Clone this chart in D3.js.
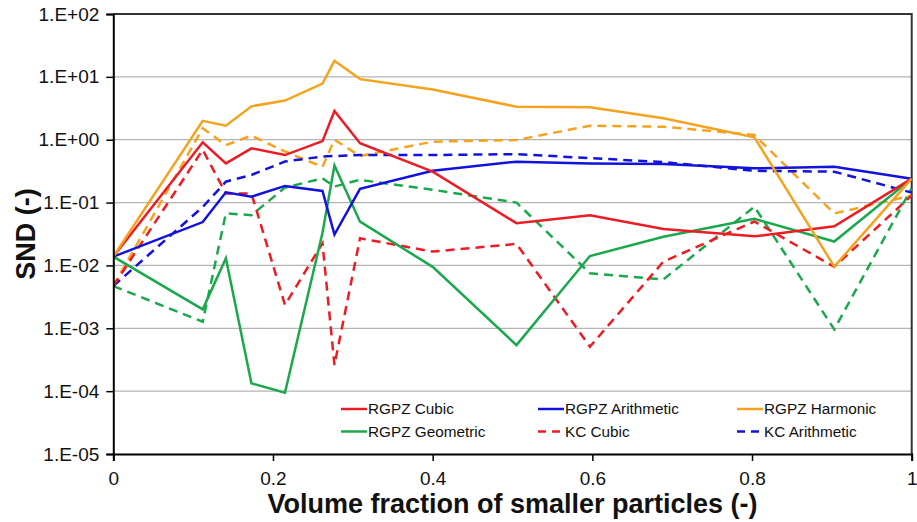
<!DOCTYPE html>
<html><head><meta charset="utf-8">
<script src="https://cdn.jsdelivr.net/npm/d3@7"></script>
<style>
body{margin:0;background:#fff;}
svg text{font-family:"Liberation Sans",Arial,sans-serif;}
</style></head>
<body><svg id="chart" width="917" height="522"></svg>
<script>
const xValues = [0, 0.112, 0.141, 0.173, 0.215, 0.262, 0.277, 0.309, 0.4, 0.505, 0.597, 0.689, 0.803, 0.903, 1];
const rgpzCubic = [0.0138, 0.91, 0.42, 0.73, 0.57, 0.95, 2.86, 0.88, 0.31, 0.047, 0.063, 0.038, 0.029, 0.042, 0.24];
const rgpzArithmetic = [0.0138, 0.049, 0.146, 0.124, 0.184, 0.153, 0.031, 0.165, 0.32, 0.448, 0.42, 0.41, 0.35, 0.37, 0.24];
const rgpzHarmonic = [0.0138, 2.0, 1.67, 3.4, 4.2, 7.8, 18, 9.2, 6.3, 3.35, 3.27, 2.19, 1.09, 0.0096, 0.24];
const rgpzGeometric = [0.0138, 0.002, 0.013, 0.000133, 0.0000945, 0.033, 0.39, 0.0497, 0.0095, 0.00054, 0.0141, 0.0286, 0.055, 0.024, 0.24];
const kcCubic = [0.0047, 0.69, 0.14, 0.14, 0.00235, 0.0225, 0.00026, 0.027, 0.0166, 0.022, 0.00051, 0.0115, 0.05, 0.0095, 0.13];
const kcArithmetic = [0.0047, 0.085, 0.215, 0.275, 0.45, 0.54, 0.55, 0.57, 0.57, 0.59, 0.51, 0.44, 0.32, 0.31, 0.144];
const kcHarmonic = [0.0047, 1.52, 0.82, 1.16, 0.65, 0.37, 1.0, 0.55, 0.93, 0.99, 1.67, 1.61, 1.19, 0.067, 0.13];
const kcGeometric = [0.0047, 0.00127, 0.0675, 0.063, 0.173, 0.243, 0.18, 0.23, 0.16, 0.10, 0.0075, 0.006, 0.086, 0.00096, 0.17];

const yTickValues = [1e-5, 1e-4, 1e-3, 1e-2, 1e-1, 1, 10, 100];
const yTickLabels = ["1.E-05", "1.E-04", "1.E-03", "1.E-02", "1.E-01", "1.E+00", "1.E+01", "1.E+02"];
const xTickValues = [0, 0.2, 0.4, 0.6, 0.8, 1];
const xTickLabels = ["0", "0.2", "0.4", "0.6", "0.8", "1"];

const RED = "#ec1c24", BLUE = "#1212dc", ORANGE = "#f5a21e", GREEN = "#1ba84c";
const series = [
  {name: "KC Geometric", values: kcGeometric, color: GREEN, dash: true},
  {name: "KC Harmonic", values: kcHarmonic, color: ORANGE, dash: true},
  {name: "KC Arithmetic", values: kcArithmetic, color: BLUE, dash: true},
  {name: "KC Cubic", values: kcCubic, color: RED, dash: true},
  {name: "RGPZ Geometric", values: rgpzGeometric, color: GREEN, dash: false},
  {name: "RGPZ Arithmetic", values: rgpzArithmetic, color: BLUE, dash: false},
  {name: "RGPZ Cubic", values: rgpzCubic, color: RED, dash: false},
  {name: "RGPZ Harmonic", values: rgpzHarmonic, color: ORANGE, dash: false}
];
const legendOrder = ["RGPZ Cubic", "RGPZ Arithmetic", "RGPZ Harmonic", "RGPZ Geometric", "KC Cubic", "KC Arithmetic"];

const svg = d3.select("#chart");
const m = {left: 113.3, right: 911.7, top: 14, bottom: 454};
const x = d3.scaleLinear().domain([0, 1]).range([m.left, m.right]);
const y = d3.scaleLog().domain([1e-5, 100]).range([m.bottom, m.top]);

// grid
svg.append("g").selectAll("line").data(yTickValues.slice(1, -1)).join("line")
  .attr("x1", m.left).attr("x2", m.right)
  .attr("y1", d => y(d)).attr("y2", d => y(d))
  .attr("stroke", "#b4b4b4").attr("stroke-width", 1.3);

// plot border top/right
svg.append("path")
  .attr("d", `M${m.left},${m.top}H${m.right}V${m.bottom}`)
  .attr("fill", "none").attr("stroke", "#333").attr("stroke-width", 2);

// series lines
const line = d3.line().x((d, i) => x(xValues[i])).y(d => y(d));
svg.append("clipPath").attr("id", "clip").append("rect")
  .attr("x", m.left).attr("y", m.top).attr("width", m.right - m.left).attr("height", m.bottom - m.top);
svg.append("g").attr("clip-path", "url(#clip)").selectAll("path").data(series).join("path")
  .attr("d", d => line(d.values))
  .attr("fill", "none")
  .attr("stroke", d => d.color)
  .attr("stroke-width", 2.5)
  .attr("stroke-linejoin", "miter")
  .attr("stroke-dasharray", d => d.dash ? "9,6" : null);

// axes
const yAxis = d3.axisLeft(y).tickValues(yTickValues).tickFormat((d, i) => yTickLabels[i]).tickSize(7).tickPadding(7);
const gy = svg.append("g").attr("transform", `translate(${m.left},0)`).call(yAxis);
gy.select(".domain").attr("stroke", "#000").attr("stroke-width", 2);
gy.selectAll(".tick line").attr("stroke", "#000").attr("stroke-width", 1.5);
gy.selectAll(".tick text").attr("font-size", 19).attr("fill", "#111")
  .attr("font-family", "'Liberation Sans', Arial, sans-serif");

const xAxis = d3.axisBottom(x).tickValues(xTickValues).tickFormat((d, i) => xTickLabels[i]).tickSize(7).tickPadding(11);
const gx = svg.append("g").attr("transform", `translate(0,${m.bottom})`).call(xAxis);
gx.select(".domain").attr("stroke", "#000").attr("stroke-width", 2);
gx.selectAll(".tick line").attr("stroke", "#000").attr("stroke-width", 1.5);
gx.selectAll(".tick text").attr("font-size", 19).attr("fill", "#111")
  .attr("font-family", "'Liberation Sans', Arial, sans-serif");

// axis titles
svg.append("text")
  .attr("x", (m.left + m.right) / 2).attr("y", 512.5)
  .attr("text-anchor", "middle").attr("font-size", 27).attr("font-weight", "bold")
  .attr("fill", "#111").text("Volume fraction of smaller particles (-)");
svg.append("text").attr("transform", `translate(35,${(m.top + m.bottom) / 2}) rotate(-90)`)
  .attr("text-anchor", "middle").attr("font-size", 27).attr("font-weight", "bold")
  .attr("fill", "#111").text("SND (-)");

// legend
const colX = [341, 538, 737];
const rowY = [409, 431.5];
const lg = svg.append("g");
legendOrder.forEach((name, i) => {
  const s = series.find(d => d.name === name);
  const cx = colX[i % 3], cy = rowY[Math.floor(i / 3)];
  lg.append("line").attr("x1", cx).attr("x2", cx + 26).attr("y1", cy).attr("y2", cy)
    .attr("stroke", s.color).attr("stroke-width", 2.5)
    .attr("stroke-dasharray", s.dash ? "8,6" : null);
  lg.append("text").attr("x", cx + 27).attr("y", cy)
    .attr("dy", "0.35em")
    .attr("font-size", 15.3).attr("fill", "#111").text(name);
});
</script></body></html>
